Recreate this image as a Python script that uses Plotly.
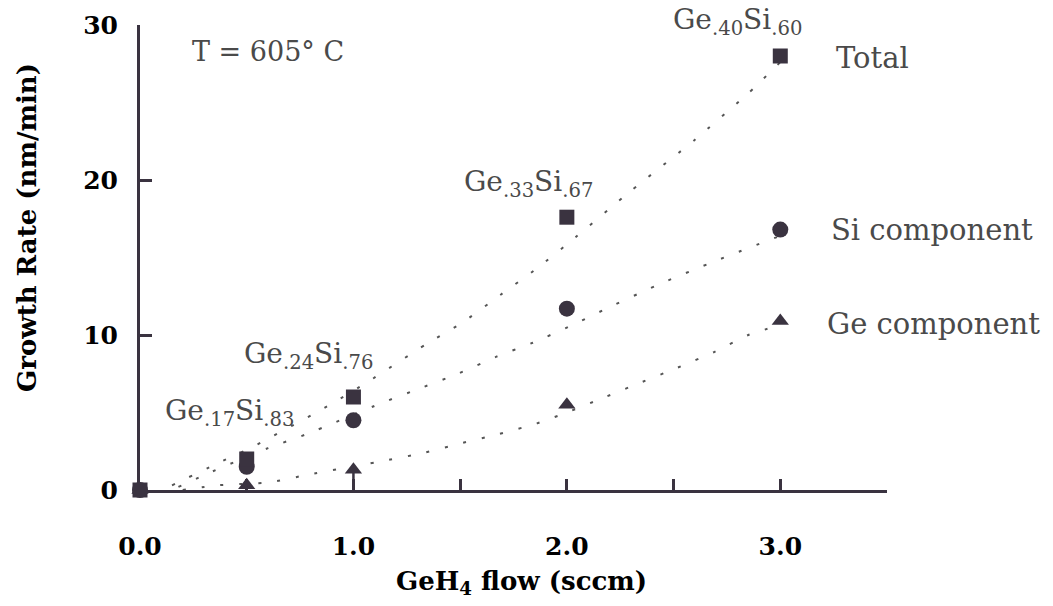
import plotly.graph_objects as go

# ---- data ----
flow = [0.0, 0.5, 1.0, 2.0, 3.0]
total = [0.0, 2.0, 6.0, 17.6, 28.0]
si_comp = [0.0, 1.5, 4.5, 11.7, 16.8]
ge_comp = [0.0, 0.3, 1.3, 5.5, 10.9]
ge_stem = [0.0, 0.3, 1.3, 0.0, 0.0]

fit_total_x = [0.15, 0.36, 0.53, 0.89, 1.07, 1.34, 1.51, 1.69, 1.86, 2.04, 2.3, 2.6, 2.85, 3.0]
fit_total_y = [0.3, 1.7, 2.8, 5.5, 7.0, 9.4, 10.8, 12.6, 14.3, 16.3, 19.3, 22.6, 25.6, 27.6]
fit_si_x = [0.18, 0.34, 0.6, 0.78, 1.13, 1.32, 1.49, 1.67, 1.84, 2.02, 2.17, 2.42, 2.7, 3.0]
fit_si_y = [0.2, 1.2, 2.7, 3.6, 5.6, 6.6, 7.5, 8.6, 9.5, 10.6, 11.6, 13.2, 14.8, 16.4]
fit_ge_x = [0.2, 0.36, 0.61, 0.79, 1.15, 1.33, 1.5, 1.68, 1.86, 2.0, 2.18, 2.34, 2.52, 2.69, 2.85, 2.94]
fit_ge_y = [0.0, 0.3, 0.5, 1.0, 1.9, 2.4, 3.0, 3.6, 4.3, 5.0, 6.0, 6.9, 7.9, 8.9, 10.0, 10.4]

x_tickvals = [0.0, 1.0, 2.0, 3.0]
x_ticktext = ["0.0", "1.0", "2.0", "3.0"]
y_tickvals = [0, 10, 20, 30]
y_ticktext = ["0", "10", "20", "30"]

comp_labels = [
    (2.80, 30.0, "Ge<sub>.40</sub>Si<sub>.60</sub>"),
    (1.82, 19.8, "Ge<sub>.33</sub>Si<sub>.67</sub>"),
    (0.79, 8.7, "Ge<sub>.24</sub>Si<sub>.76</sub>"),
    (0.42, 5.0, "Ge<sub>.17</sub>Si<sub>.83</sub>"),
]
series_labels = [
    (3.25, 27.9, "Total"),
    (3.23, 16.8, "Si component"),
    (3.21, 10.7, "Ge component"),
]

INK = "#3a3340"
GREY = "#4a4a4a"
SERIF = "DejaVu Serif"

fig = go.Figure()

dot = dict(color="#555555", width=2, dash="3px,16px", shape="spline", smoothing=0.6)
for fx, fy in [(fit_total_x, fit_total_y), (fit_si_x, fit_si_y), (fit_ge_x, fit_ge_y)]:
    fig.add_trace(go.Scatter(x=fx, y=fy, mode="lines", line=dot,
                             hoverinfo="skip", showlegend=False, cliponaxis=False))

fig.add_trace(go.Scatter(
    x=flow, y=ge_comp, mode="markers", name="Ge component",
    marker=dict(symbol="triangle-up", size=15, color=INK),
    error_y=dict(type="data", symmetric=False, array=[0] * len(flow),
                 arrayminus=ge_stem, width=0, thickness=2.5, color=INK),
    cliponaxis=False, showlegend=False))
fig.add_trace(go.Scatter(
    x=flow, y=si_comp, mode="markers", name="Si component",
    marker=dict(symbol="circle", size=16, color=INK),
    cliponaxis=False, showlegend=False))
fig.add_trace(go.Scatter(
    x=flow, y=total, mode="markers", name="Total",
    marker=dict(symbol="square", size=15, color=INK),
    cliponaxis=False, showlegend=False))

annotations = []
for i, (x, y, t) in enumerate(comp_labels):
    annotations.append(dict(x=x, y=y, xref="x", yref="y", text=t, showarrow=False,
                            xanchor="center", yanchor="middle", yshift=4 if i == 0 else 0,
                            font=dict(family=SERIF, size=28, color=GREY)))
for x, y, t in series_labels:
    annotations.append(dict(x=x, y=y, xref="x", yref="y", text=t, showarrow=False,
                            xanchor="left", yanchor="middle",
                            font=dict(family=SERIF, size=29, color=GREY)))
annotations.append(dict(x=0.60, y=28.3, xref="x", yref="y", text="T = 605° C",
                        showarrow=False, xanchor="center", yanchor="middle",
                        font=dict(family=SERIF, size=27, color=GREY)))
# axis titles (paper coords span the plot area: x 140..887 px, y 490..25 px)
annotations.append(dict(x=(521 - 140) / 747, y=(490 - 582) / 465, xref="paper", yref="paper",
                        text="<b>GeH<sub>4</sub> flow (sccm)</b>", showarrow=False,
                        xanchor="center", yanchor="middle",
                        font=dict(family=SERIF, size=26, color="black")))
annotations.append(dict(x=(27 - 140) / 747, y=(490 - 228) / 465, xref="paper", yref="paper",
                        text="<b>Growth Rate (nm/min)</b>", showarrow=False, textangle=-90,
                        xanchor="center", yanchor="middle",
                        font=dict(family=SERIF, size=26, color="black")))

fig.update_layout(
    width=1053, height=606,
    margin=dict(l=140, r=166, t=25, b=116),
    paper_bgcolor="white", plot_bgcolor="white",
    showlegend=False,
    annotations=annotations,
    xaxis=dict(range=[0, 3.5], tickvals=x_tickvals, ticktext=x_ticktext,
               ticks="inside", ticklen=11, tickwidth=3, tickcolor=INK,
               minor=dict(tick0=0, dtick=0.5, ticks="inside", ticklen=11, tickwidth=3,
                          tickcolor=INK, showgrid=False),
               showline=True, linewidth=3, linecolor=INK, showgrid=False, zeroline=False,
               ticklabelstandoff=32,
               tickfont=dict(family=SERIF, size=25, color="black", weight="bold")),
    yaxis=dict(range=[0, 30], tickvals=y_tickvals, ticktext=y_ticktext,
               ticks="inside", ticklen=12, tickwidth=3, tickcolor=INK,
               showline=True, linewidth=3, linecolor=INK, showgrid=False, zeroline=False,
               ticklabelstandoff=14,
               tickfont=dict(family=SERIF, size=25, color="black", weight="bold")),
)

fig.write_html("out.html")
